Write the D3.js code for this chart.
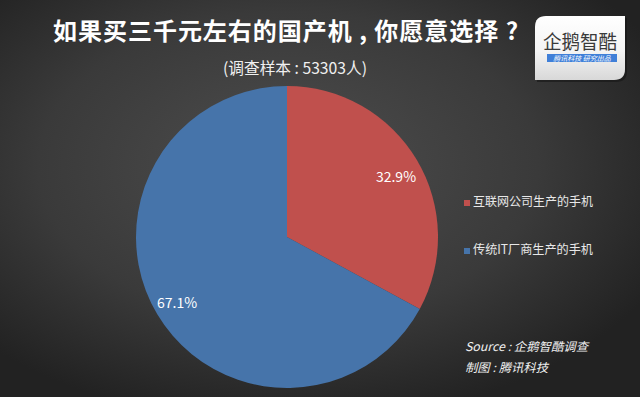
<!DOCTYPE html>
<html><head><meta charset="utf-8">
<script src="https://cdn.jsdelivr.net/npm/d3@7"></script>
<style>html,body{margin:0;padding:0;background:#2a2a2a;}svg{display:block;}</style>
</head><body>
<script>
const categories = ["互联网公司生产的手机", "传统IT厂商生产的手机"];
const values = [32.9, 67.1];
const valueLabels = ["32.9%", "67.1%"];
const colors = ["#c0504d", "#4674aa"];

const W = 640, H = 397;
const svg = d3.select("body").append("svg").attr("width", W).attr("height", H);
const defs = svg.append("defs");
const rg = defs.append("radialGradient").attr("id","bg").attr("cx","0.45").attr("cy","0.42").attr("r","0.65");
rg.append("stop").attr("offset","0%").attr("stop-color","#4e4e4e");
rg.append("stop").attr("offset","60%").attr("stop-color","#3a3a3a");
rg.append("stop").attr("offset","100%").attr("stop-color","#222");
svg.append("rect").attr("width",W).attr("height",H).attr("fill","url(#bg)");

const font = "'Noto Sans CJK SC', 'Noto Sans', sans-serif";

svg.append("text").attr("x",53).attr("y",40)
  .attr("textLength",465).attr("lengthAdjust","spacing")
  .attr("font-family",font).attr("font-weight","bold").attr("font-size",24).attr("fill","#fff")
  .text("如果买三千元左右的国产机 , 你愿意选择 ?");
svg.append("text").attr("x",223).attr("y",74)
  .attr("textLength",144).attr("lengthAdjust","spacingAndGlyphs")
  .attr("font-family",font).attr("font-size",16).attr("fill","#f0f0f0")
  .text("(调查样本 : 53303人)");

// logo
const lg = defs.append("linearGradient").attr("id","lg").attr("x1",0).attr("y1",0).attr("x2",0).attr("y2",1);
lg.append("stop").attr("offset","0%").attr("stop-color","#ffffff");
lg.append("stop").attr("offset","55%").attr("stop-color","#f4f4f4");
lg.append("stop").attr("offset","100%").attr("stop-color","#d8d8d8");
const bx=535, by=16, bw=90, bh=64, br=11;
const boxPath = `M${bx+br},${by} H${bx+bw} V${by+bh-br} Q${bx+bw},${by+bh} ${bx+bw-br},${by+bh} H${bx} V${by+br} Q${bx},${by} ${bx+br},${by} Z`;
svg.append("path").attr("d",boxPath).attr("fill","#151515").attr("transform","translate(2,2)").attr("opacity",0.6);
svg.append("path").attr("d",boxPath).attr("fill","url(#lg)");
svg.append("text").attr("x",580).attr("y",49).attr("text-anchor","middle")
  .attr("textLength",74).attr("lengthAdjust","spacingAndGlyphs")
  .attr("font-family",font).attr("font-size",19).attr("fill","#3a3a3a").text("企鹅智酷");
svg.append("rect").attr("x",547).attr("y",54).attr("width",70).attr("height",8).attr("fill","#3f7fd8");
svg.append("text").attr("x",582).attr("y",61).attr("text-anchor","middle")
  .attr("font-family",font).attr("font-size",7).attr("fill","#fff").attr("font-style","italic").text("腾讯科技  研究出品");

// pie
const cx = 287, cy = 237, r = 151;
const pie = d3.pie().sort(null).value(d => d);
const arcs = pie(values);
const arc = d3.arc().innerRadius(0).outerRadius(r);
const g = svg.append("g").attr("transform",`translate(${cx},${cy})`);
g.selectAll("path").data(arcs).join("path").attr("d",arc).attr("fill",(d,i)=>colors[i]);
const labelPos = [[109,-59],[-110,67]];
g.selectAll("text.v").data(arcs).join("text").attr("class","v")
  .attr("x",(d,i)=>labelPos[i][0]).attr("y",(d,i)=>labelPos[i][1])
  .attr("text-anchor","middle").attr("dominant-baseline","middle")
  .attr("font-family",font).attr("font-size",14).attr("fill","#fff")
  .text((d,i)=>valueLabels[i]);

// legend
const leg = svg.append("g");
categories.forEach((c,i)=>{
  const y = 203 + i*48;
  leg.append("rect").attr("x",464).attr("y",y-3).attr("width",6).attr("height",6).attr("fill",colors[i]);
  leg.append("text").attr("x",473).attr("y",y).attr("dominant-baseline","middle")
    .attr("textLength",120).attr("lengthAdjust","spacingAndGlyphs")
    .attr("font-family",font).attr("font-size",12.5).attr("fill","#e8e8e8").text(c);
});

// source
svg.append("text").attr("x",465).attr("y",351).attr("font-family",font).attr("font-size",12)
  .attr("textLength",123).attr("lengthAdjust","spacingAndGlyphs")
  .attr("font-style","italic").attr("fill","#f0f0f0").text("Source : 企鹅智酷调查");
svg.append("text").attr("x",465).attr("y",372).attr("font-family",font).attr("font-size",12)
  .attr("textLength",83).attr("lengthAdjust","spacingAndGlyphs")
  .attr("font-style","italic").attr("fill","#f0f0f0").text("制图 : 腾讯科技");
</script>
</body></html>
